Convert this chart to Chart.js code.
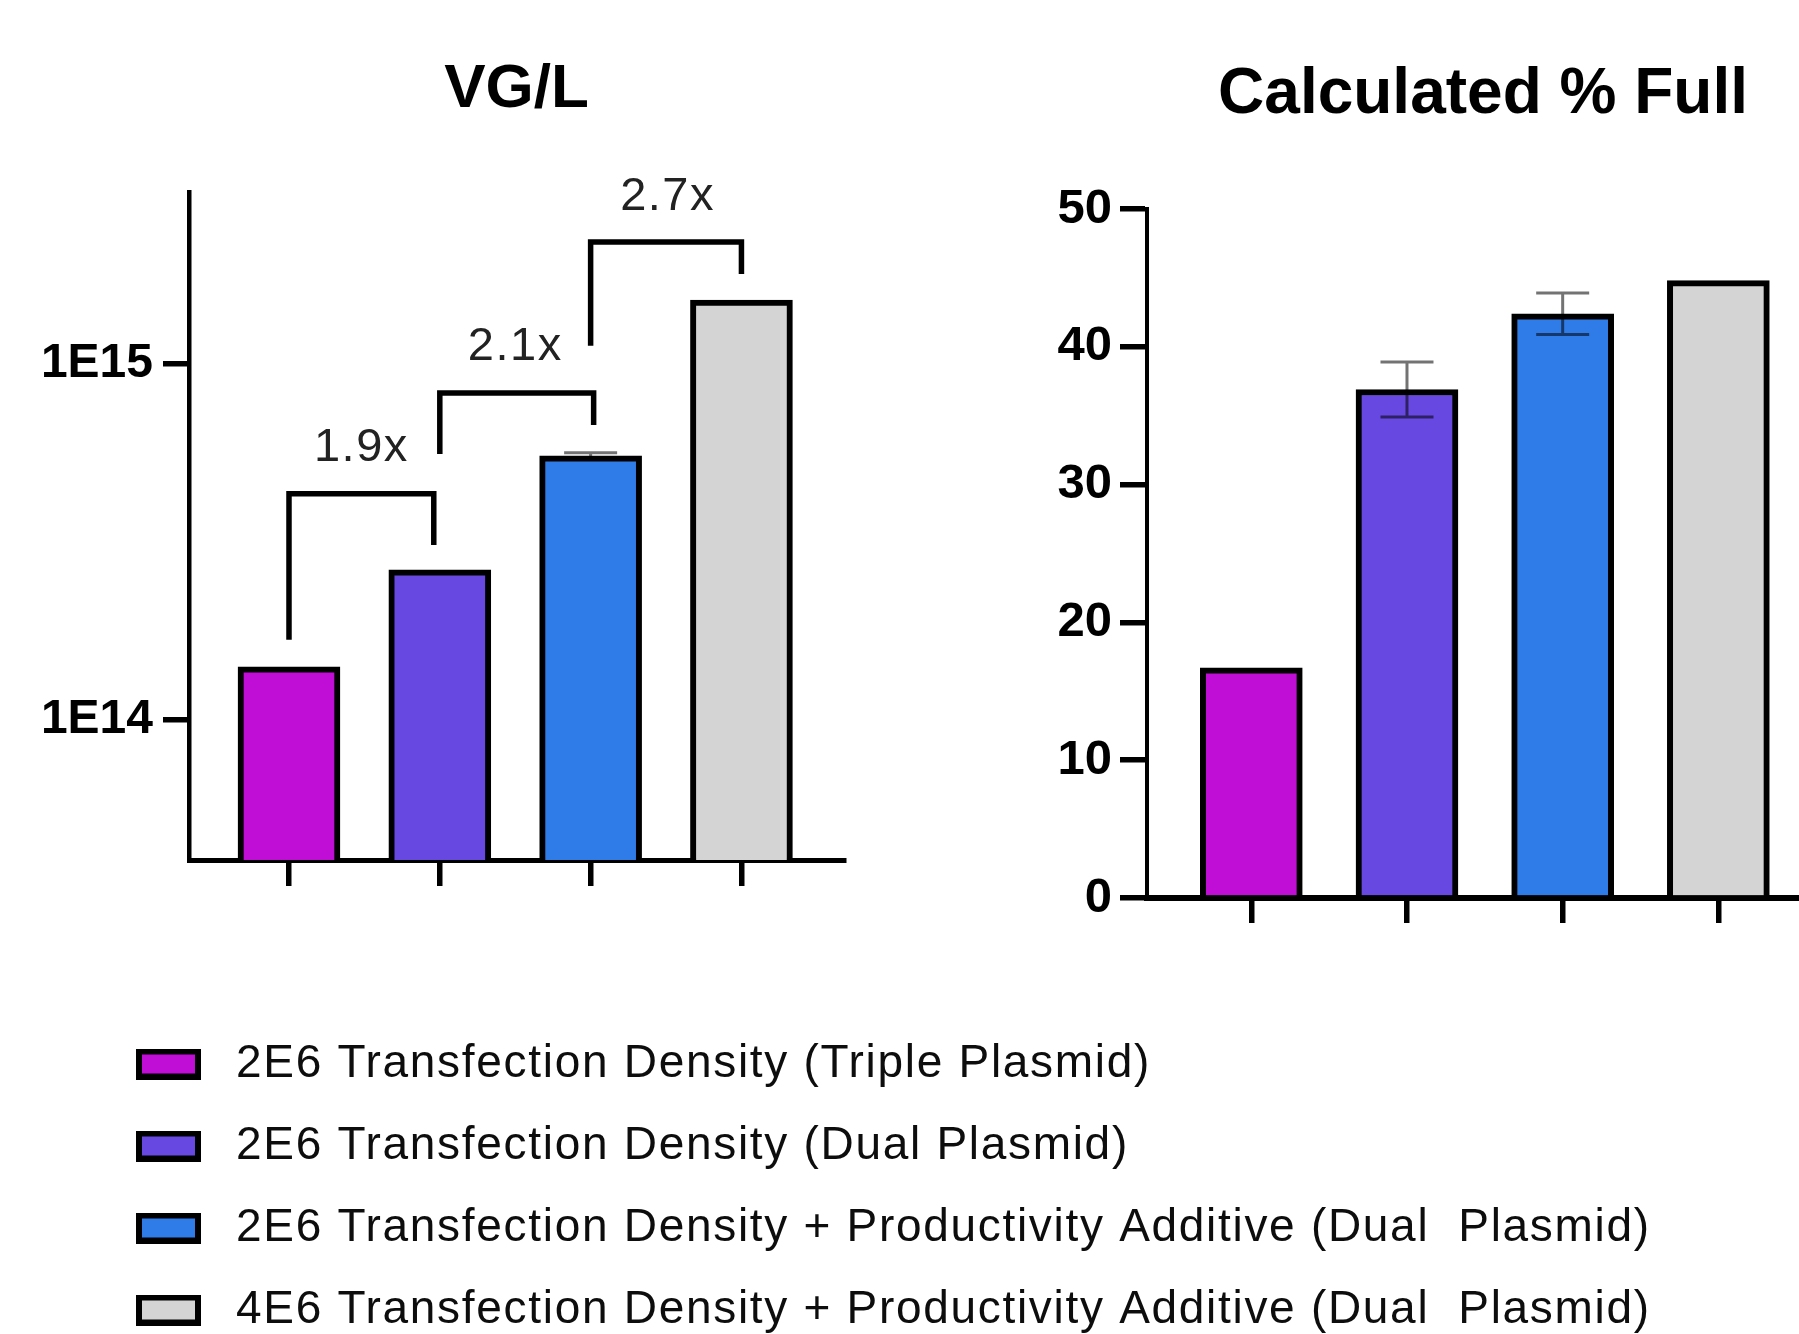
<!DOCTYPE html>
<html>
<head>
<meta charset="utf-8">
<script src="https://cdn.jsdelivr.net/npm/chart.js@4.4.1/dist/chart.umd.min.js"></script>
<style>
html,body{margin:0;padding:0;background:#fff;overflow:hidden;width:1799px;height:1334px;}
canvas{position:absolute;left:0;top:0;}
#left{z-index:2;}
#right{z-index:1;}
</style>
</head>
<body>
<canvas id="right" width="1799" height="1343"></canvas>
<canvas id="left" width="900" height="920"></canvas>
<script>
// ---------- data ----------
const categories = [
  '2E6 Transfection Density (Triple Plasmid)',
  '2E6 Transfection Density (Dual Plasmid)',
  '2E6 Transfection Density + Productivity Additive (Dual  Plasmid)',
  '4E6 Transfection Density + Productivity Additive (Dual  Plasmid)'
];
const vgPerL = [1.41e14, 2.64e14, 5.52e14, 1.51e15];
const vgPerLError = [0, 0, 1.1e13, 0];
const percentFull = [16.7, 36.9, 42.4, 44.8];
const percentFullError = [0, 2.0, 1.5, 0];
const vgTickValues = [1e14, 1e15];
const vgTickLabels = ['1E14', '1E15'];
const pctTickValues = [0, 10, 20, 30, 40, 50];
const pctTickLabels = ['0', '10', '20', '30', '40', '50'];
// fold-change brackets (data units)
const foldLabels = ['1.9x', '2.1x', '2.7x'];
const foldFrom = [0, 1, 2];
const foldTo = [0.96, 2.02, 3];
const foldLeftEnd = [1.68e14, 5.58e14, 1.125e15];
const foldTop = [4.32e14, 8.28e14, 2.20e15];
const foldRightEnd = [3.10e14, 6.74e14, 1.79e15];
const foldLabelX = [0.48, 1.5, 2.51];
const foldLabelY = [5.81e14, 1.117e15, 2.94e15];

// ---------- styles ----------
const barColors = ['#C10ED6', '#6748E0', '#2F7BE8', '#D4D4D4'];
const FONT = "'Liberation Sans', Arial, Helvetica, sans-serif";
Chart.defaults.font.family = FONT;
Chart.defaults.color = '#000';

const errorBarPlugin = {
  id: 'errorBars',
  afterDatasetsDraw(chart, args, o) {
    const {ctx, scales: {x, y}} = chart;
    ctx.save();
    ctx.strokeStyle = o.color;
    ctx.lineWidth = o.width;
    ctx.beginPath();
    o.errors.forEach((e, i) => {
      if (!e) return;
      const px = x.getPixelForValue(i);
      const yt = y.getPixelForValue(o.values[i] + e);
      const yb = y.getPixelForValue(o.values[i] - e);
      ctx.moveTo(px, yt); ctx.lineTo(px, yb);
      ctx.moveTo(px - o.cap / 2, yt); ctx.lineTo(px + o.cap / 2, yt);
      ctx.moveTo(px - o.cap / 2, yb); ctx.lineTo(px + o.cap / 2, yb);
    });
    ctx.stroke();
    ctx.restore();
  }
};

const bracketPlugin = {
  id: 'brackets',
  afterDatasetsDraw(chart, args, o) {
    const {ctx, scales: {x, y}} = chart;
    ctx.save();
    ctx.strokeStyle = o.color;
    ctx.lineWidth = o.width;
    ctx.lineJoin = 'miter';
    ctx.lineCap = 'butt';
    ctx.fillStyle = o.textColor;
    ctx.font = o.font;
    if ('letterSpacing' in ctx) ctx.letterSpacing = o.letterSpacing;
    ctx.textAlign = 'center';
    ctx.textBaseline = 'middle';
    o.labels.forEach((lab, i) => {
      const xl = x.getPixelForValue(o.from[i]);
      const xr = x.getPixelForValue(o.to[i]);
      const yt = y.getPixelForValue(o.top[i]);
      ctx.beginPath();
      ctx.moveTo(xl, y.getPixelForValue(o.leftEnd[i]));
      ctx.lineTo(xl, yt);
      ctx.lineTo(xr, yt);
      ctx.lineTo(xr, y.getPixelForValue(o.rightEnd[i]));
      ctx.stroke();
      ctx.fillText(lab, x.getPixelForValue(o.labelX[i]), y.getPixelForValue(o.labelY[i]));
    });
    ctx.restore();
  }
};

// wraps the legend (letter spacing) and title (horizontal nudge) drawing
const textTweakPlugin = {
  id: 'textTweak',
  beforeLayout(chart, args, o) {
    const lg = chart.legend;
    if (lg && !lg._tweaked && o.legendSpacing) {
      lg._tweaked = true;
      const wrap = fn => function (...a) {
        const ctx = this.ctx;
        const prev = ctx.letterSpacing;
        if ('letterSpacing' in ctx) ctx.letterSpacing = o.legendSpacing;
        try { return fn.apply(this, a); } finally { if ('letterSpacing' in ctx) ctx.letterSpacing = prev; }
      };
      lg.fit = wrap(lg.fit);
      lg.draw = wrap(lg.draw);
    }
    const tb = chart.titleBlock;
    if (tb && !tb._tweaked && o.titleShift) {
      tb._tweaked = true;
      const d = tb.draw;
      tb.draw = function (...a) {
        const ctx = this.ctx;
        ctx.save();
        ctx.translate(o.titleShift, 0);
        try { return d.apply(this, a); } finally { ctx.restore(); }
      };
    }
  }
};

// legend swatches (box + gap before text)
const swatches = barColors.map(col => {
  const c = document.createElement('canvas');
  c.width = 77; c.height = 31;
  const g = c.getContext('2d');
  g.fillStyle = '#000'; g.fillRect(0, 0, 65, 31);
  g.fillStyle = col; g.fillRect(6, 6, 53, 19);
  return c;
});

const tickGrid = (len, w) => ({drawOnChartArea: false, drawTicks: true, tickLength: len, color: '#000', lineWidth: w, offset: false});

// ---------- left chart: VG/L ----------
new Chart(document.getElementById('left'), {
  type: 'bar',
  data: {
    datasets: [{
      data: categories.map((c, i) => ({x: i, y: vgPerL[i]})),
      backgroundColor: barColors,
      borderColor: '#000',
      borderWidth: 6,
      borderSkipped: 'start',
      barThickness: 102
    }]
  },
  options: {
    responsive: false, animation: false, devicePixelRatio: 1, events: [],
    layout: {padding: {left: 0, right: 56, top: 0, bottom: 0}},
    plugins: {
      legend: {display: false},
      tooltip: {enabled: false},
      title: {display: true, text: 'VG/L', fullSize: false, color: '#000',
              font: {size: 62, weight: 'bold'}, padding: {top: 53, bottom: 64.6}},
      errorBars: {values: vgPerL, errors: vgPerLError, color: 'rgba(0,0,0,0.55)', width: 3, cap: 53},
      brackets: {labels: foldLabels, from: foldFrom, to: foldTo, leftEnd: foldLeftEnd, top: foldTop,
                 rightEnd: foldRightEnd, labelX: foldLabelX, labelY: foldLabelY,
                 color: '#000', width: 5.5, textColor: '#222', font: "47px " + FONT, letterSpacing: '1.5px'}
    },
    scales: {
      x: {
        type: 'linear', min: -0.663, max: 3.68, offset: false, z: 1,
        afterFit(s) { s.height = 60; },
        afterBuildTicks(s) { s.ticks = categories.map((c, i) => ({value: i})); },
        ticks: {callback: () => '', autoSkip: false},
        grid: tickGrid(26, 5.5),
        border: {display: true, color: '#000', width: 5}
      },
      y: {
        type: 'logarithmic', min: 4.04e13, max: 3.04e15,
        afterFit(s) { s.width = 189; },
        afterBuildTicks(s) { s.ticks = vgTickValues.map(v => ({value: v})); },
        ticks: {callback: (v, i) => vgTickLabels[i], autoSkip: false, padding: 10, color: '#000',
                font: {size: 48, weight: 'bold'}},
        grid: tickGrid(26, 5.5),
        border: {display: true, color: '#000', width: 4.5}
      }
    }
  },
  plugins: [errorBarPlugin, bracketPlugin]
});

// ---------- right chart: Calculated % Full (with shared legend) ----------
new Chart(document.getElementById('right'), {
  type: 'bar',
  data: {
    datasets: [{
      data: categories.map((c, i) => ({x: i, y: percentFull[i]})),
      backgroundColor: barColors,
      borderColor: '#000',
      borderWidth: 6,
      borderSkipped: 'start',
      barThickness: 102
    }]
  },
  options: {
    responsive: false, animation: false, devicePixelRatio: 1, events: [],
    layout: {padding: {left: 100, right: 0, top: 0, bottom: 0}},
    plugins: {
      tooltip: {enabled: false},
      title: {display: true, text: 'Calculated % Full', fullSize: false, color: '#000',
              font: {size: 64, weight: 'bold'}, padding: {top: 57, bottom: 75.2}},
      legend: {
        display: true, position: 'bottom', align: 'start',
        labels: {
          usePointStyle: true, pointStyleWidth: 77, padding: 36, color: '#0d0d0d',
          font: {size: 46},
          generateLabels: () => categories.map((c, i) => ({
            text: c, fillStyle: barColors[i], strokeStyle: '#000', lineWidth: 6,
            pointStyle: swatches[i], hidden: false, index: i, datasetIndex: 0, fontColor: '#0d0d0d'
          }))
        }
      },
      textTweak: {legendSpacing: '1.7px', titleShift: 10},
      errorBars: {values: percentFull, errors: percentFullError, color: 'rgba(0,0,0,0.55)', width: 3, cap: 53}
    },
    scales: {
      x: {
        type: 'linear', min: -0.67, max: 3.518, offset: false, z: 1,
        afterFit(s) { s.height = 107; },
        afterBuildTicks(s) { s.ticks = categories.map((c, i) => ({value: i})); },
        ticks: {callback: () => '', autoSkip: false},
        grid: tickGrid(25, 5.5),
        border: {display: true, color: '#000', width: 6}
      },
      y: {
        type: 'linear', min: 0, max: 50,
        afterFit(s) { s.width = 1047; },
        afterBuildTicks(s) { s.ticks = pctTickValues.map(v => ({value: v})); },
        ticks: {callback: (v, i) => pctTickLabels[i], autoSkip: false, padding: 8, color: '#000',
                font: {size: 49, weight: 'bold'}},
        grid: tickGrid(27, 5.5),
        border: {display: true, color: '#000', width: 4}
      }
    }
  },
  plugins: [errorBarPlugin, textTweakPlugin]
});
</script>
</body>
</html>
